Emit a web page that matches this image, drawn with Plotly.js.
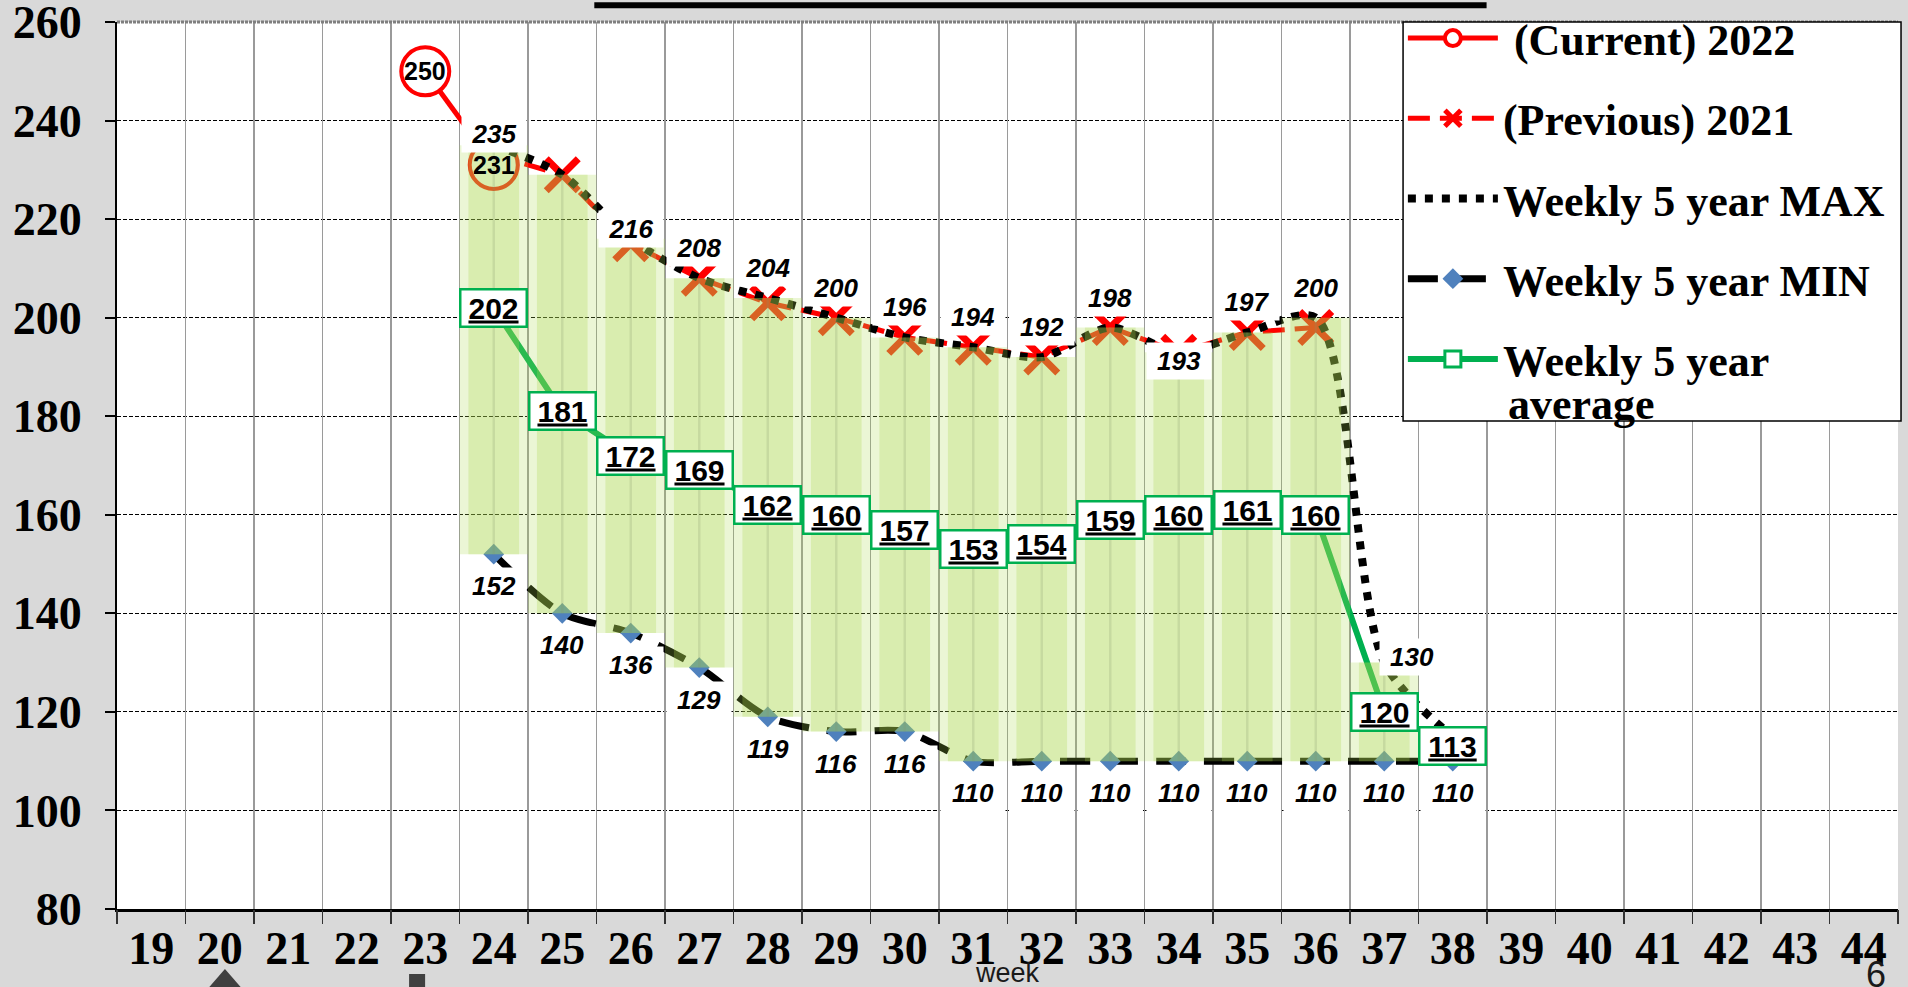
<!DOCTYPE html>
<html>
<head>
<meta charset="utf-8">
<script src="https://cdn.plot.ly/plotly-3.0.1.min.js"></script>
<style>
html,body{margin:0;padding:0;background:#d9d9d9;}
#chart{width:1908px;height:987px;}
</style>
</head>
<body>
<div id="chart"></div>
<script>
// ---------- data ----------
const allWeeks   = [19,20,21,22,23,24,25,26,27,28,29,30,31,32,33,34,35,36,37,38,39,40,41,42,43,44];
const weekLabels = ['19','20','21','22','23','24','25','26','27','28','29','30','31','32','33','34','35','36','37','38','39','40','41','42','43','44'];
const yTicks     = [80,100,120,140,160,180,200,220,240,260];

const current2022Weeks = [23, 24];
const current2022      = [250, 231];

const previous2021Weeks = [24,25,26,27,28,29,30,31,32,33,34,35,36];
const previous2021      = [233,229,215,208,203,200,196,194,192,198,193,197,198];

const rangeWeeks = [24,25,26,27,28,29,30,31,32,33,34,35,36,37,38];
const weeklyMax  = [235,229,216,208,204,200,196,194,192,198,193,197,200,130,115];
const weeklyMin  = [152,140,136,129,119,116,116,110,110,110,110,110,110,110,110];
const weeklyAvg  = [202,181,172,169,162,160,157,153,154,159,160,161,160,120,113];

// ---------- label styling (not data) ----------
const hiddenMaxLabels = [25, 38];
const maxLabelNudge = {24:[0,11], 26:[0,10], 34:[0,-9], 37:[28,6]};   // [xshift, yshift] px
const defaultMaxNudge = [0,30];
const minLabelShift = -32;

// ---------- derived helpers ----------
const boundaries = allWeeks.map(w => w - 0.5).concat([allWeeks[allWeeks.length-1] + 0.5]);
const spanHeights = weeklyMax.map((v,i) => v - weeklyMin[i]);

const RED = '#ff0000', GREEN = '#00b050', BLUE = '#4f81bd';
const SERIF = 'Liberation Serif, Times New Roman, serif';
const SANS  = 'Liberation Sans, Arial, sans-serif';

const traces = [
  {
    x: previous2021Weeks, y: previous2021, name: '(Previous) 2021', type: 'scatter', mode: 'lines+markers',
    line: {color: RED, width: 5, dash: '22px,10px'},
    marker: {symbol: 'x-thin-open', size: 32, color: RED, line: {color: RED, width: 7}},
    legendgroup: 'g2', legendrank: 2, xaxis: 'x', yaxis: 'y'
  },
  {
    x: current2022Weeks, y: current2022, name: '\u00a0(Current) 2022', type: 'scatter', mode: 'lines+markers',
    line: {color: RED, width: 5},
    marker: {symbol: 'circle', size: 48, color: '#ffffff', line: {color: RED, width: 4}},
    legendgroup: 'g1', legendrank: 1, xaxis: 'x', yaxis: 'y'
  },
  {
    x: rangeWeeks, y: weeklyMax, name: 'Weekly 5 year MAX', type: 'scatter', mode: 'lines',
    line: {color: '#000', width: 8, dash: '8px,9px', shape: 'spline', smoothing: 0.8},
    legendgroup: 'g3', legendrank: 3, xaxis: 'x', yaxis: 'y'
  },
  {
    x: rangeWeeks, y: weeklyMin, name: 'Weekly 5 year MIN', type: 'scatter', mode: 'lines+markers',
    line: {color: '#000', width: 7, dash: '30px,18px', shape: 'spline', smoothing: 0.8},
    marker: {symbol: 'diamond', size: 16, color: BLUE},
    legendgroup: 'g4', legendrank: 4, xaxis: 'x', yaxis: 'y'
  },
  {
    x: rangeWeeks, y: weeklyAvg, name: 'Weekly 5 year', type: 'scatter', mode: 'lines+markers',
    line: {color: GREEN, width: 6},
    marker: {symbol: 'square', size: 20, color: '#ffffff', line: {color: GREEN, width: 3}},
    legendgroup: 'g5', legendrank: 5, xaxis: 'x', yaxis: 'y'
  },
  // translucent min-max band on the overlay subplot so it lies over the lines
  {
    x: rangeWeeks, y: spanHeights, base: weeklyMin, type: 'bar', width: 1.0,
    marker: {color: 'rgba(172,217,80,0.24)', line: {width: 0}},
    showlegend: false, hoverinfo: 'skip', xaxis: 'x2', yaxis: 'y2'
  },
  {
    x: rangeWeeks, y: spanHeights, base: weeklyMin, type: 'bar', width: 0.74,
    marker: {color: 'rgba(172,217,80,0.28)', line: {width: 0}},
    showlegend: false, hoverinfo: 'skip', xaxis: 'x2', yaxis: 'y2'
  },
  {
    x: rangeWeeks, y: spanHeights, base: weeklyMin, type: 'bar', width: 0.035,
    marker: {color: 'rgba(130,150,110,0.22)', line: {width: 0}},
    showlegend: false, hoverinfo: 'skip', xaxis: 'x2', yaxis: 'y2'
  }
];

// ---------- annotations ----------
const annotations = [];
current2022Weeks.forEach((w,i) => {
  annotations.push({x: w, y: current2022[i], xref: 'x', yref: 'y', showarrow: false,
    text: '<b>' + current2022[i] + '</b>', font: {family: SANS, size: 25, color: '#000'}});
});
rangeWeeks.forEach((w,i) => {
  if (hiddenMaxLabels.includes(w)) return;
  const n = maxLabelNudge[w] || defaultMaxNudge;
  annotations.push({x: w, y: weeklyMax[i], xref: 'x', yref: 'y', showarrow: false,
    text: '<b><i>' + weeklyMax[i] + '</i></b>', font: {family: SANS, size: 26, color: '#000'},
    bgcolor: '#ffffff', width: 62, height: 34, xshift: n[0], yshift: n[1]});
});
rangeWeeks.forEach((w,i) => {
  annotations.push({x: w, y: weeklyMin[i], xref: 'x', yref: 'y', showarrow: false,
    text: '<b><i>' + weeklyMin[i] + '</i></b>', font: {family: SANS, size: 26, color: '#000'},
    bgcolor: '#ffffff', width: 62, height: 34, yshift: minLabelShift});
});
rangeWeeks.forEach((w,i) => {
  annotations.push({x: w, y: weeklyAvg[i], xref: 'x', yref: 'y', showarrow: false,
    text: '<b><u>' + weeklyAvg[i] + '</u></b>', font: {family: SANS, size: 30, color: '#000'},
    bgcolor: '#ffffff', bordercolor: GREEN, borderwidth: 2.5, width: 62, height: 33});
});
// second line of the last legend entry
annotations.push({x: 0.780, y: 0.5693, xref: 'paper', yref: 'paper', xanchor: 'left', yanchor: 'middle',
  showarrow: false, text: '<b>average</b>', font: {family: SERIF, size: 44, color: '#000'}});
annotations.push({x: 0.5, y: -0.0722, xref: 'paper', yref: 'paper', xanchor: 'center', yanchor: 'middle',
  showarrow: false, text: 'week', font: {family: SANS, size: 27, color: '#1a1a1a'}});
annotations.push({x: 0.9875, y: -0.0744, xref: 'paper', yref: 'paper', xanchor: 'center', yanchor: 'middle',
  showarrow: false, text: '6', font: {family: SANS, size: 36, color: '#1a1a1a'}});

const shapes = [
  {type: 'line', xref: 'paper', yref: 'paper', x0: 0, x1: 1, y0: 1, y1: 1,
   line: {color: '#7f7f7f', width: 3, dash: '3px,1px'}},
  {type: 'rect', xref: 'paper', yref: 'paper', x0: 0.7221, x1: 1.0017, y0: 0.5502, y1: 1.0,
   fillcolor: '#ffffff', line: {color: '#000', width: 1.5}},
  {type: 'line', xref: 'paper', yref: 'paper', x0: 0.268, x1: 0.769, y0: 1.019, y1: 1.019,
   line: {color: '#000', width: 6}},
  {type: 'path', xref: 'paper', yref: 'paper', path: 'M 0.0455 -0.1026 L 0.0606 -0.0676 L 0.0758 -0.1026 Z',
   fillcolor: '#404040', line: {width: 0}},
  {type: 'rect', xref: 'paper', yref: 'paper', x0: 0.164, x1: 0.173, y0: -0.1026, y1: -0.0733,
   fillcolor: '#404040', line: {width: 0}}
];

const layout = {
  width: 1908, height: 987,
  paper_bgcolor: '#d9d9d9', plot_bgcolor: '#ffffff',
  margin: {l: 117, r: 10, t: 22, b: 78, pad: 0, autoexpand: false},
  barmode: 'overlay',
  showlegend: true,
  xaxis: {
    range: [18.5, 44.5], tickmode: 'array', tickvals: allWeeks, ticktext: weekLabels,
    ticks: '', showgrid: false, zeroline: false, showline: true, linecolor: '#000', linewidth: 3,
    tickfont: {family: SERIF, size: 46, color: '#000', weight: 'bold'}, ticklabelstandoff: -3,
    ticklabeloverflow: 'allow', automargin: false, fixedrange: true
  },
  xaxis2: {
    overlaying: 'x', anchor: 'y2', range: [18.5, 44.5], tickmode: 'array', tickvals: boundaries,
    ticks: 'outside', ticklen: 14, tickwidth: 1.5, tickcolor: '#333', showticklabels: false,
    showgrid: true, gridcolor: '#9a9a9a', gridwidth: 1.5, zeroline: false, showline: false,
    automargin: false, fixedrange: true
  },
  yaxis: {
    range: [80, 260], tickmode: 'array', tickvals: yTicks, ticktext: yTicks.map(String),
    ticks: 'outside', ticklen: 10, tickwidth: 2, tickcolor: '#000',
    showline: true, linecolor: '#000', linewidth: 2,
    showgrid: true, gridcolor: '#000', gridwidth: 1, griddash: '4px,2px', zeroline: false,
    tickfont: {family: SERIF, size: 46, color: '#000', weight: 'bold'}, ticklabelstandoff: 14,
    ticklabeloverflow: 'allow', automargin: false, fixedrange: true
  },
  yaxis2: {overlaying: 'y', range: [80, 260], visible: false, fixedrange: true},
  legend: {
    x: 0.722, y: 1.0214, xanchor: 'left', yanchor: 'top',
    bgcolor: 'rgba(0,0,0,0)', borderwidth: 0,
    font: {family: SERIF, size: 44, color: '#000', weight: 'bold'},
    itemwidth: 90, tracegroupgap: 20, valign: 'middle', traceorder: 'grouped'
  },
  annotations: annotations,
  shapes: shapes
};

Plotly.newPlot('chart', traces, layout, {staticPlot: true, displayModeBar: false});
</script>
</body>
</html>
